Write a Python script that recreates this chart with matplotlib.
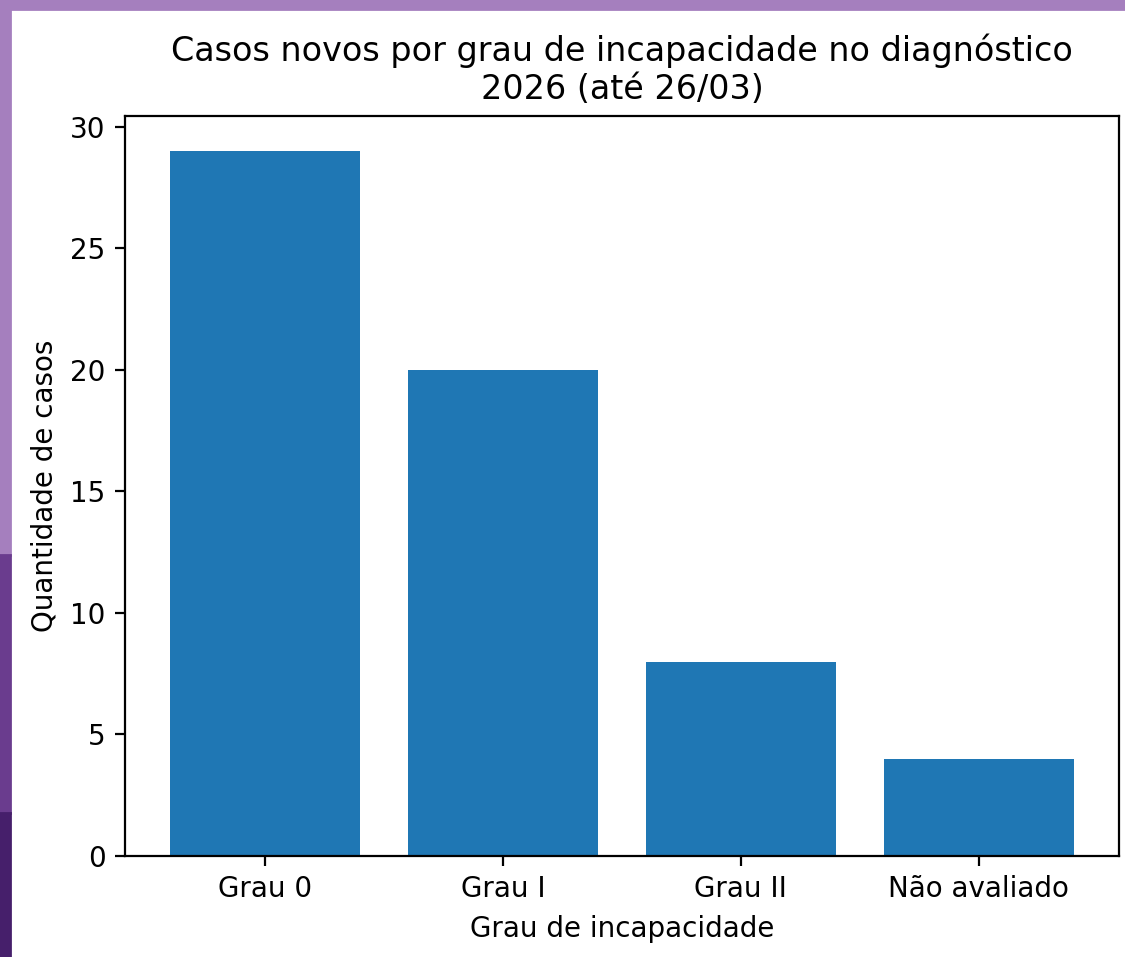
import matplotlib
matplotlib.use('Agg')
import matplotlib.pyplot as plt
from matplotlib.patches import Rectangle

# data
categorias = ['Grau 0', 'Grau I', 'Grau II', 'Não avaliado']
casos = [29, 20, 8, 4]

titulo = 'Casos novos por grau de incapacidade no diagnóstico\n2026 (até 26/03)'
rotulo_x = 'Grau de incapacidade'
rotulo_y = 'Quantidade de casos'

W, H, DPI = 1125, 957, 200
fig = plt.figure(figsize=(W / DPI, H / DPI), dpi=DPI)

# purple slide frame around the screenshot (top and left strips)
fig.patches.append(Rectangle((0, 1 - 9 / H), 1, 9 / H, transform=fig.transFigure,
                             color='#a57fbe', zorder=-1))
fig.patches.append(Rectangle((0, 1 - 555 / H), 10 / W, 555 / H, transform=fig.transFigure,
                             color='#a57fbe', zorder=-1))
fig.patches.append(Rectangle((0, 1 - 813 / H), 10 / W, 258 / H, transform=fig.transFigure,
                             color='#6a3c8e', zorder=-1))
fig.patches.append(Rectangle((0, 0), 10 / W, 1 - 813 / H, transform=fig.transFigure,
                             color='#461f6b', zorder=-1))

ax = fig.add_axes([125 / W, (H - 856) / H, (1119 - 125) / W, (856 - 116) / H])
ax.bar(categorias, casos, color='#1f77b4')
ax.set_title(titulo, fontsize=12)
ax.set_xlabel(rotulo_x)
ax.set_ylabel(rotulo_y)

fig.savefig('out.png', dpi=DPI)
